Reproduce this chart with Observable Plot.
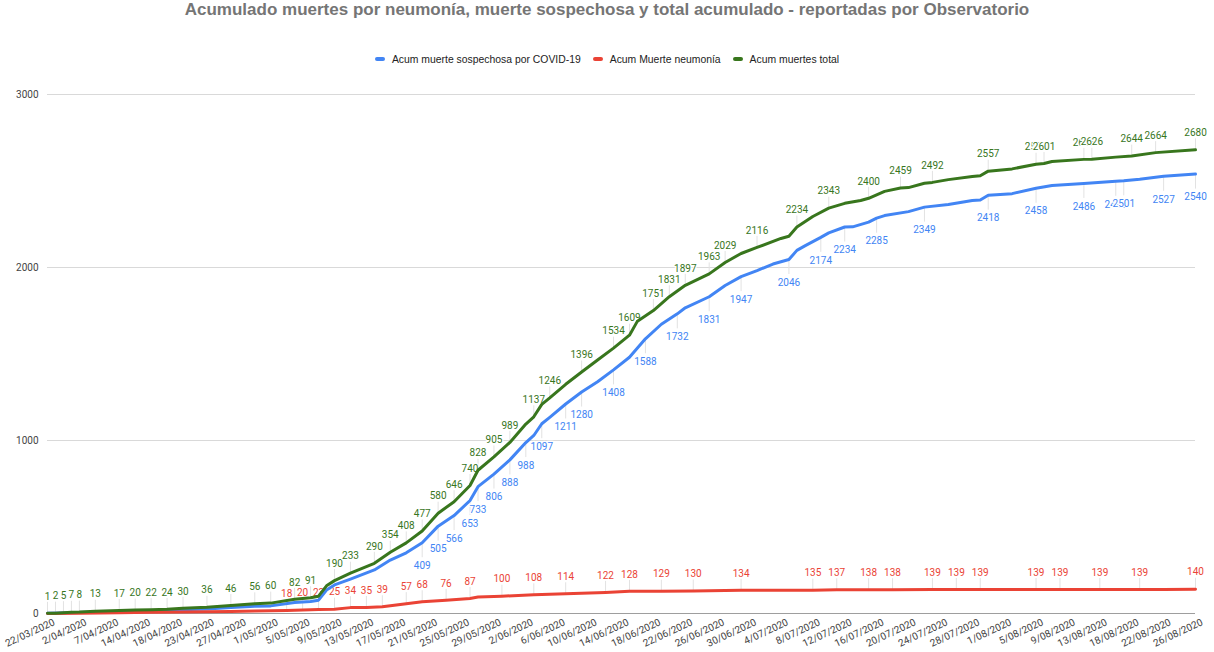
<!DOCTYPE html>
<html><head><meta charset="utf-8">
<script src="https://cdn.jsdelivr.net/npm/d3@7"></script>
<script src="https://cdn.jsdelivr.net/npm/@observablehq/plot@0.6"></script>
<style>
body{margin:0;background:#fff;width:1214px;height:652px;overflow:hidden;}
#title{height:36px;line-height:36px;text-align:center;font:bold 17px "Liberation Sans",Arial,sans-serif;color:#757575;white-space:nowrap;}
#legend{height:40px;display:flex;justify-content:center;align-items:center;padding-top:6px;box-sizing:border-box;font:10.4px "Liberation Sans",Arial,sans-serif;color:#222;}
.item{display:flex;align-items:center;margin:0 6px;}
.sw{width:10px;height:4px;border-radius:2px;margin-right:7px;}
#chart svg{display:block;}
</style></head>
<body>
<div id="title">Acumulado muertes por neumonía, muerte sospechosa y total acumulado - reportadas por Observatorio</div>
<div id="legend"></div>
<div id="chart"></div>
<script>
const tickLabels = ["22/03/2020","2/04/2020","7/04/2020","14/04/2020","18/04/2020","23/04/2020","27/04/2020","1/05/2020","5/05/2020","9/05/2020","13/05/2020","17/05/2020","21/05/2020","25/05/2020","29/05/2020","2/06/2020","6/06/2020","10/06/2020","14/06/2020","18/06/2020","22/06/2020","26/06/2020","30/06/2020","4/07/2020","8/07/2020","12/07/2020","16/07/2020","20/07/2020","24/07/2020","28/07/2020","1/08/2020","5/08/2020","9/08/2020","13/08/2020","18/08/2020","22/08/2020","26/08/2020"];
const rowsPerTick = 4;
const lastRow = 144;

const seriesNames = ["Acum muerte sospechosa por COVID-19","Acum Muerte neumonía","Acum muertes total"];
const seriesColors = ["#4285f4","#ea4335","#38761d"];

// Acum muerte sospechosa por COVID-19
const sospRows = [0,4,9,13,17,20,23,26,28,31,33,34,35,36,38,41,43,45,47,49,51,53,54,56,58,60,61,62,63,65,67,69,71,73,75,77,79,80,83,85,87,89,91,93,94,95,97,98,100,101,103,104,105,108,110,113,116,117,118,121,124,126,130,134,135,137,140,144];
const sospValues = [1,6,12,15,21,26,34,42,44,63,69,77,136,165,199,252,309,351,409,505,566,653,733,806,888,988,1029,1097,1134,1211,1280,1340,1408,1481,1588,1672,1732,1767,1831,1896,1947,1982,2020,2046,2099,2125,2174,2200,2234,2235,2262,2285,2300,2323,2349,2364,2387,2390,2418,2427,2458,2474,2486,2498,2501,2510,2527,2540];
const sospLabelRows = [47,49,51,53,54,56,58,60,62,65,67,71,75,79,83,87,93,97,100,104,110,118,124,130,134,135,140,144];

// Acum Muerte neumonía
const neumRows = [0,4,9,13,17,20,23,26,28,30,32,34,36,38,40,42,45,47,50,53,54,57,61,65,70,73,77,81,87,96,99,103,106,111,114,117,124,127,132,137,140,144];
const neumValues = [0,2,5,7,9,10,12,14,16,18,20,23,25,34,35,39,57,68,76,87,95,100,108,114,122,128,129,130,134,135,137,138,138,139,139,139,139,139,139,139,139,140];
const neumLabelRows = [30,32,34,36,38,40,42,45,47,50,53,57,61,65,70,73,77,81,87,96,99,103,106,111,114,117,124,127,132,137,144];

// Acum muertes total
const totalRows = [0,1,2,3,4,6,9,11,13,15,17,20,23,26,28,31,33,34,35,36,38,41,43,45,47,49,51,53,54,56,58,60,61,62,63,65,67,69,71,73,74,76,78,80,83,85,87,89,92,93,94,96,98,100,102,103,105,107,108,110,111,113,116,117,118,121,124,125,126,130,131,134,136,139,144];
const totalValues = [1,2,5,7,8,13,17,20,22,24,30,36,46,56,60,82,91,100,160,190,233,290,354,408,477,580,646,740,828,905,989,1095,1137,1209,1246,1325,1396,1465,1534,1609,1690,1751,1831,1897,1963,2029,2081,2116,2168,2181,2234,2295,2343,2371,2387,2400,2440,2459,2462,2487,2492,2508,2526,2530,2557,2570,2597,2601,2613,2625,2626,2638,2644,2664,2680];
const totalLabelRows = [0,1,2,3,4,6,9,11,13,15,17,20,23,26,28,31,33,36,38,41,43,45,47,49,51,53,54,56,58,61,63,67,71,73,76,78,80,83,85,89,94,98,103,107,111,118,124,125,130,131,136,139,144];

const yTicks = [0,1000,2000,3000];

// legend
const legend = document.getElementById("legend");
seriesNames.forEach((n,i)=>{
  const it = document.createElement("div"); it.className="item";
  const sw = document.createElement("div"); sw.className="sw"; sw.style.background=seriesColors[i];
  const tx = document.createElement("span"); tx.textContent=n;
  it.appendChild(sw); it.appendChild(tx); legend.appendChild(it);
});

const pts = (rows, vals) => rows.map((r,i)=>({row:r, value:vals[i]}));
const sosp = pts(sospRows, sospValues);
const neum = pts(neumRows, neumValues);
const total = pts(totalRows, totalValues);
const pick = (data, rows) => data.filter(d => rows.includes(d.row));
const sospL = pick(sosp, sospLabelRows);
const neumL = pick(neum, neumLabelRows);
const totalL = pick(total, totalLabelRows);

const W = 1214, H = 576, mT = 18, mB = 39, mL = 47, mR = 19;
const yMax = yTicks[yTicks.length-1];
const k = yMax / (H - mT - mB); // data units per pixel
const ticks = tickLabels.map((t,i)=>({row:i*rowsPerTick, t}));

const labelFont = {fontSize:10, fontFamily:"Roboto", stroke:"white", strokeWidth:2.5, paintOrder:"stroke"};

const chart = Plot.plot({
  width: W, height: H,
  marginTop: mT, marginBottom: mB, marginLeft: mL, marginRight: mR,
  style: {fontFamily:"Roboto", fontSize:"10px", color:"#444", background:"white", overflow:"visible"},
  x: {domain:[0,lastRow], axis:null},
  y: {domain:[0,yMax], ticks:yTicks, tickSize:0, tickPadding:9, tickFormat:d=>String(d), label:null},
  marks: [
    Plot.ruleY(yTicks.slice(1), {stroke:"#d9d9d9"}),
    // leader lines
    Plot.ruleX(totalL, {x:"row", y1:"value", y2:d=>d.value + 11*k, stroke:"#e2e2e2", strokeWidth:1}),
    Plot.ruleX(neumL, {x:"row", y1:"value", y2:d=>d.value + 11*k, stroke:"#e2e2e2", strokeWidth:1}),
    Plot.ruleX(sospL, {x:"row", y1:"value", y2:d=>d.value - 15*k, stroke:"#e2e2e2", strokeWidth:1}),
    // data labels
    Plot.text(sospL, {x:"row", y:"value", text:d=>String(d.value), dy:23, fill:seriesColors[0], ...labelFont}),
    Plot.text(neumL, {x:"row", y:"value", text:d=>String(d.value), dy:-17, fill:seriesColors[1], ...labelFont}),
    Plot.text(totalL, {x:"row", y:"value", text:d=>String(d.value), dy:-17, fill:seriesColors[2], ...labelFont}),
    Plot.ruleY([0], {stroke:"#9e9e9e"}),
    // lines
    Plot.line(sosp, {x:"row", y:"value", stroke:seriesColors[0], strokeWidth:3, strokeLinejoin:"round", strokeLinecap:"round"}),
    Plot.line(neum, {x:"row", y:"value", stroke:seriesColors[1], strokeWidth:3, strokeLinejoin:"round", strokeLinecap:"round"}),
    Plot.line(total, {x:"row", y:"value", stroke:seriesColors[2], strokeWidth:3, strokeLinejoin:"round", strokeLinecap:"round"}),
    // x tick labels
    Plot.text(ticks, {x:"row", frameAnchor:"bottom", text:"t", rotate:-25, textAnchor:"end", dx:8, dy:11, fontSize:10, fill:"#444"})
  ]
});
document.getElementById("chart").appendChild(chart);
</script>
</body></html>
